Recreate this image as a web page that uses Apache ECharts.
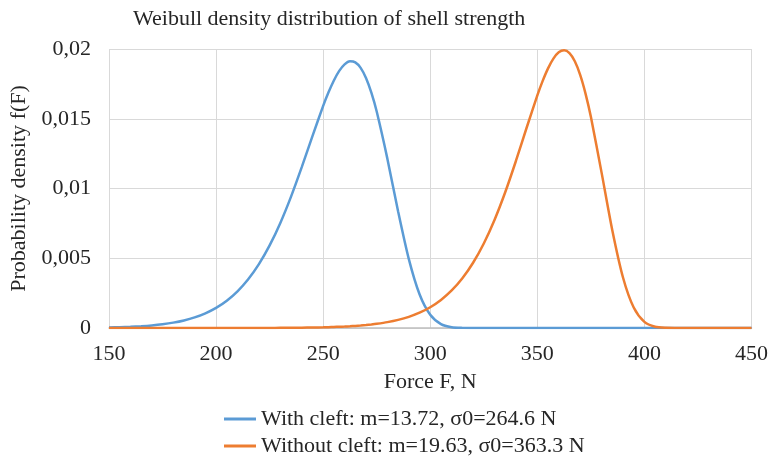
<!DOCTYPE html>
<html>
<head>
<meta charset="utf-8">
<script src="https://cdn.jsdelivr.net/npm/echarts@6/dist/echarts.min.js"></script>
<style>
  html, body { margin: 0; padding: 0; background: #fff; }
  #chart { width: 771px; height: 460px; }
</style>
</head>
<body>
<div id="chart"></div>
<script>
// force values (N); finer around the two peaks
var force = [
  150, 155, 160, 165, 170, 175, 180, 185, 190, 195, 200, 205, 210, 215, 220, 225,
  230, 235, 240, 245, 250,
  252.5, 255, 257.5, 260, 262.5, 265, 267.5, 270, 272.5, 275,
  280, 285, 290, 295, 300, 305, 310, 315, 320, 325, 330, 335, 340, 345,
  350, 352.5, 355, 357.5, 360, 362.5, 365, 367.5, 370, 372.5, 375,
  380, 385, 390, 395, 400, 405, 410, 415, 420, 425, 430, 435, 440, 445, 450
];

// density with cleft
var withCleft = [
  0.000038, 0.000058, 0.000086, 0.000128, 0.000186, 0.000269, 0.000384, 0.000543,
  0.000759, 0.001052, 0.001443, 0.001958, 0.002630, 0.003491, 0.004577, 0.005918,
  0.007535, 0.009421, 0.011530, 0.013758, 0.015919,
  0.016892, 0.017744, 0.018428, 0.018900, 0.019117, 0.019044, 0.018649, 0.017920, 0.016866, 0.015514,
  0.012123, 0.008356, 0.004940, 0.002423, 0.000947, 0.000281, 0.000060, 0.000009,
  0.000001, 0, 0, 0, 0, 0,
  0, 0, 0, 0, 0, 0, 0, 0, 0, 0, 0,
  0, 0, 0, 0, 0, 0, 0, 0, 0, 0, 0, 0, 0, 0, 0
];

// density without cleft
var withoutCleft = [
  0, 0, 0, 0, 0, 0.0000001, 0.0000001, 0.0000002,
  0.0000003, 0.0000005, 0.0000008, 0.0000013, 0.0000020, 0.0000031, 0.0000047, 0.0000072,
  0.0000108, 0.0000161, 0.0000239, 0.0000350, 0.0000511,
  0.0000615, 0.0000738, 0.0000885, 0.0001059, 0.000127, 0.000151, 0.000180, 0.000214, 0.000254, 0.000301,
  0.000420, 0.000582, 0.000802, 0.001097, 0.001491, 0.002011, 0.002690, 0.003565,
  0.004676, 0.006061, 0.007745, 0.009730, 0.011972, 0.014355,
  0.016674, 0.017714, 0.018612, 0.019310, 0.019759, 0.019902, 0.019701, 0.019118, 0.018146, 0.016805, 0.015138,
  0.011139, 0.007012, 0.003623, 0.001465, 0.000436, 0.000088, 0.000011, 0.000001,
  0, 0, 0, 0, 0, 0, 0
];

var seriesNames = [
  "With cleft: m=13.72, σ0=264.6 N",
  "Without cleft: m=19.63, σ0=363.3 N"
];

var xTicks = { min: 150, max: 450, step: 50 };
var yTicks = { min: 0, max: 0.02, step: 0.005 };

var FONT = "Liberation Serif";
var TXT = "#262626";
var FS = 22;

function pairs(ys) {
  return force.map(function (x, i) { return [x, ys[i]]; });
}

var chart = echarts.init(document.getElementById("chart"));

chart.setOption({
  animation: false,
  textStyle: { fontFamily: FONT },
  title: {
    text: "Weibull density distribution of shell strength",
    left: 128,
    top: 3,
    textStyle: { fontFamily: FONT, fontSize: FS, fontWeight: "normal", color: TXT }
  },
  grid: { left: 109, right: 17, top: 49, bottom: 132 },
  legend: {
    orient: "vertical",
    left: 224,
    top: 408,
    height: 52,
    padding: 0,
    itemWidth: 32,
    itemHeight: 3,
    itemGap: 5,
    icon: "rect",
    data: seriesNames,
    textStyle: { fontFamily: FONT, fontSize: FS, color: TXT, padding: [0, 0, 0, 0] }
  },
  xAxis: {
    type: "value",
    min: xTicks.min,
    max: xTicks.max,
    interval: xTicks.step,
    name: "Force F, N",
    nameLocation: "middle",
    nameGap: 43,
    nameTextStyle: { fontFamily: FONT, fontSize: FS, color: TXT },
    axisLine: { show: true, lineStyle: { color: "#bfbfbf", width: 1.5 } },
    axisTick: { show: false },
    axisLabel: { fontFamily: FONT, fontSize: FS, color: TXT, margin: 15 },
    splitLine: { show: true, lineStyle: { color: "#d9d9d9", width: 1 } }
  },
  yAxis: {
    type: "value",
    min: yTicks.min,
    max: yTicks.max,
    interval: yTicks.step,
    name: "Probability density f(F)",
    nameLocation: "middle",
    nameGap: 78,
    nameTextStyle: { fontFamily: FONT, fontSize: FS, color: TXT },
    axisLine: { show: false },
    axisTick: { show: false },
    axisLabel: {
      fontFamily: FONT, fontSize: FS, color: TXT, margin: 18,
      formatter: function (v) { return String(+v.toFixed(3)).replace(".", ","); }
    },
    splitLine: { show: true, lineStyle: { color: "#d9d9d9", width: 1 } }
  },
  series: [
    {
      name: seriesNames[0],
      type: "line",
      data: pairs(withCleft),
      showSymbol: false,
      smooth: 0.25,
      color: "#5b9bd5",
      lineStyle: { width: 2.5, color: "#5b9bd5" },
      z: 3
    },
    {
      name: seriesNames[1],
      type: "line",
      data: pairs(withoutCleft),
      showSymbol: false,
      smooth: 0.25,
      color: "#ed7d31",
      lineStyle: { width: 2.5, color: "#ed7d31" },
      z: 4
    }
  ]
});
</script>
</body>
</html>
